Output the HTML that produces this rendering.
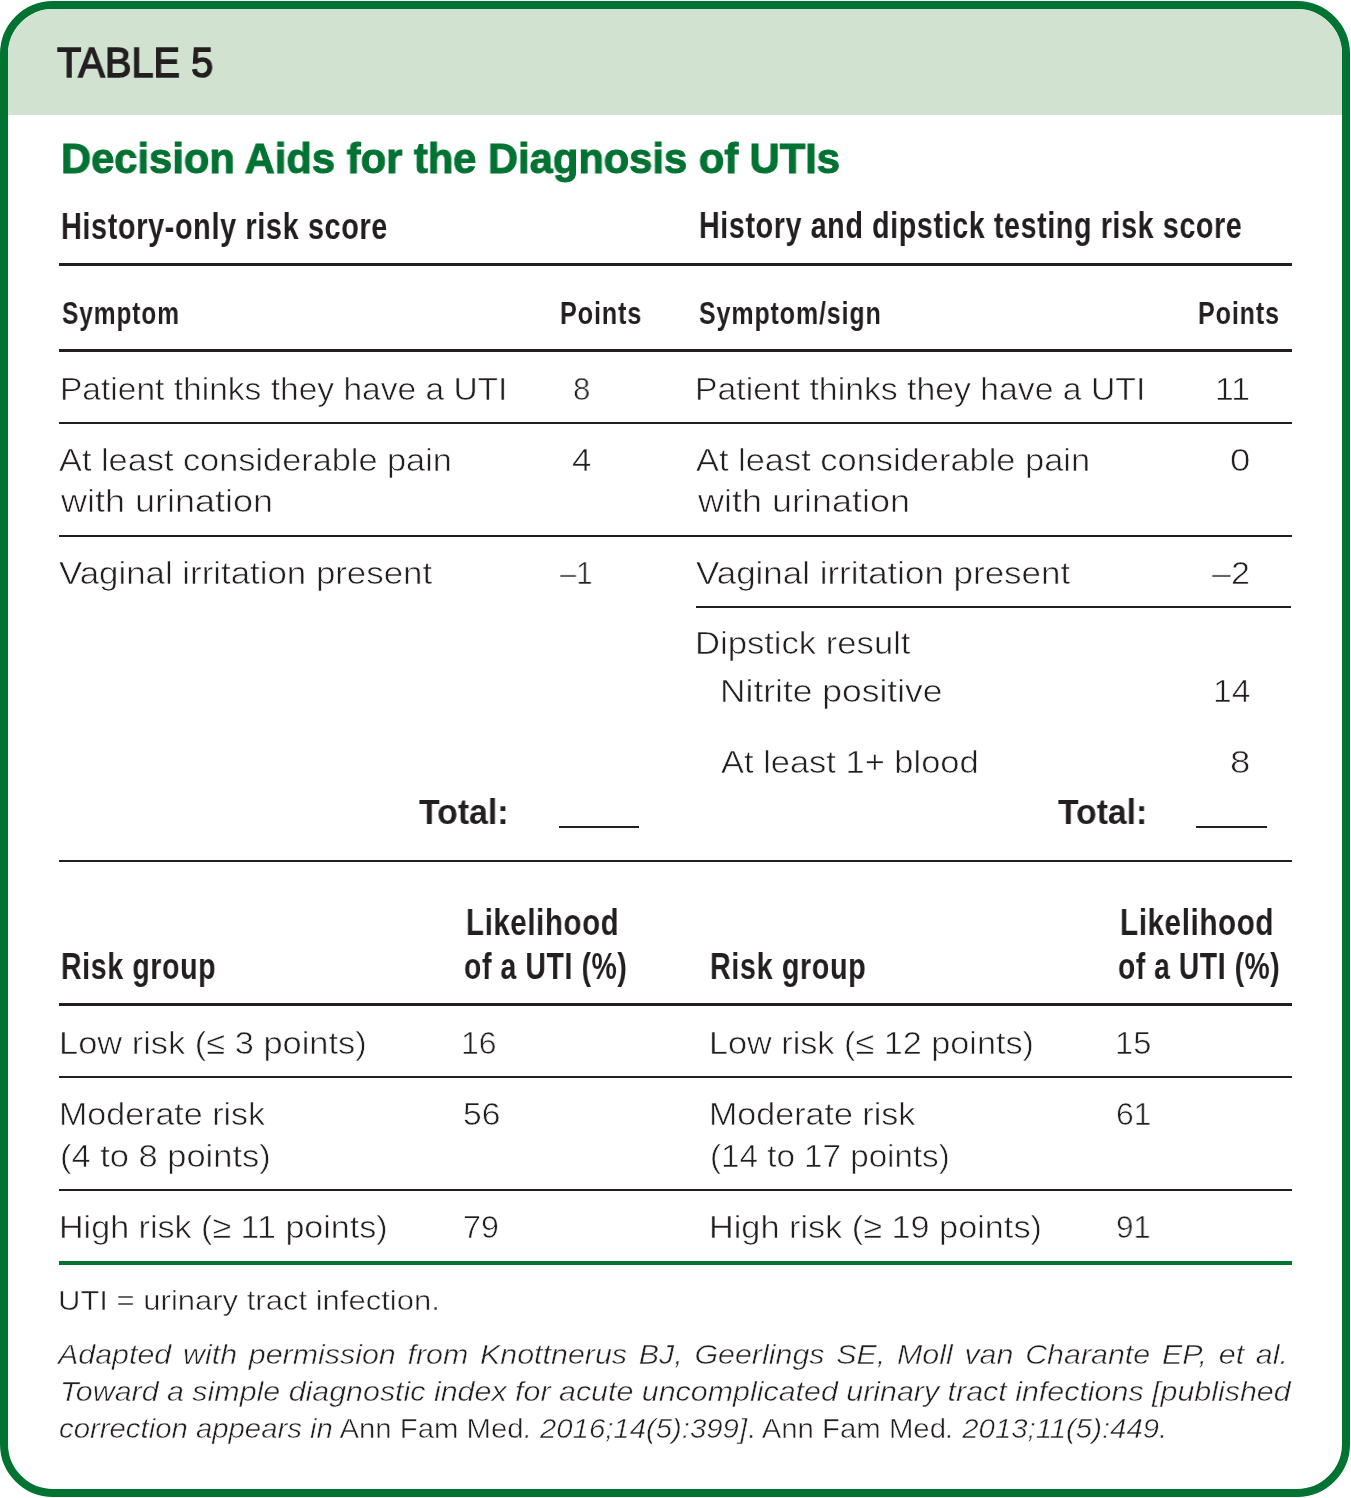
<!DOCTYPE html>
<html><head><meta charset="utf-8"><title>Table 5</title><style>
html,body{margin:0;padding:0;background:#fff;}
body{width:1351px;height:1498px;position:relative;overflow:hidden;font-family:'Liberation Sans', sans-serif;color:#231f20;}
.frame{position:absolute;left:0;top:1px;width:1350px;height:1496px;box-sizing:border-box;border:8px solid #007231;border-radius:53px;overflow:hidden;background:#fff;}
.hdr{position:absolute;left:0;top:0;width:100%;height:106px;background:#d1e2d0;}
.t{position:absolute;white-space:nowrap;line-height:1;transform-origin:0 0;will-change:transform;}
.ln{position:absolute;}
.cite{position:absolute;white-space:nowrap;line-height:1;transform-origin:0 0;will-change:transform;font-size:28.0px;-webkit-text-stroke:0.5px #fff;}
.tab{font-size:43.0px;font-weight:normal;font-style:normal;color:#231f20;letter-spacing:0px;-webkit-text-stroke:1.5px #231f20;}
.title{font-size:42.5px;font-weight:bold;font-style:normal;color:#007231;letter-spacing:0px;-webkit-text-stroke:1px #007231;}
.head{font-size:37.0px;font-weight:bold;font-style:normal;color:#231f20;letter-spacing:0.8px;}
.sub{font-size:31.5px;font-weight:bold;font-style:normal;color:#231f20;letter-spacing:1.2px;}
.body{font-size:32.0px;font-weight:normal;font-style:normal;color:#231f20;letter-spacing:0px;-webkit-text-stroke:0.6px #fff;}
.total{font-size:35.0px;font-weight:bold;font-style:normal;color:#231f20;letter-spacing:0px;}
.foot{font-size:28.0px;font-weight:normal;font-style:normal;color:#231f20;letter-spacing:0px;-webkit-text-stroke:0.5px #fff;}
</style></head>
<body>
<div class="frame"><div class="hdr"></div></div>
<div class="ln" style="left:58.5px;top:263px;width:1233.0px;height:3px;background:#231f20"></div>
<div class="ln" style="left:58.5px;top:349px;width:1233.0px;height:3px;background:#231f20"></div>
<div class="ln" style="left:58.5px;top:422px;width:1233.0px;height:2px;background:#231f20"></div>
<div class="ln" style="left:58.5px;top:535px;width:1233.0px;height:2px;background:#231f20"></div>
<div class="ln" style="left:695.7px;top:606px;width:595.8px;height:2px;background:#231f20"></div>
<div class="ln" style="left:58.5px;top:860px;width:1233.0px;height:2px;background:#231f20"></div>
<div class="ln" style="left:558.8px;top:825.5px;width:80.1px;height:2px;background:#231f20"></div>
<div class="ln" style="left:1196.3px;top:825.5px;width:71.1px;height:2px;background:#231f20"></div>
<div class="ln" style="left:58.5px;top:1003px;width:1233.0px;height:3px;background:#231f20"></div>
<div class="ln" style="left:58.5px;top:1076px;width:1233.0px;height:2px;background:#231f20"></div>
<div class="ln" style="left:58.5px;top:1189px;width:1233.0px;height:2px;background:#231f20"></div>
<div class="ln" style="left:58.5px;top:1261px;width:1233.0px;height:4px;background:#007231"></div>
<div class="t tab" style="left:56.60px;top:41.40px;transform:scaleX(0.9251)">TABLE 5</div>
<div class="t title" style="left:61.34px;top:137.92px;transform:scaleX(0.9809)">Decision Aids for the Diagnosis of UTIs</div>
<div class="t head" style="left:61.14px;top:207.58px;transform:scaleX(0.7796)">History-only risk score</div>
<div class="t head" style="left:698.75px;top:207.38px;transform:scaleX(0.7745)">History and dipstick testing risk score</div>
<div class="t sub" style="left:62.00px;top:298.04px;transform:scaleX(0.7755)">Symptom</div>
<div class="t sub" style="left:560.31px;top:298.04px;transform:scaleX(0.7951)">Points</div>
<div class="t sub" style="left:699.20px;top:297.94px;transform:scaleX(0.7896)">Symptom/sign</div>
<div class="t sub" style="left:1197.92px;top:297.94px;transform:scaleX(0.7921)">Points</div>
<div class="t body" style="left:59.80px;top:372.71px;transform:scaleX(1.0481)">Patient thinks they have a UTI</div>
<div class="t body" style="left:573.33px;top:372.71px;transform:scaleX(0.9688)">8</div>
<div class="t body" style="left:59.20px;top:444.21px;transform:scaleX(1.0722)">At least considerable pain</div>
<div class="t body" style="left:60.62px;top:485.41px;transform:scaleX(1.1249)">with urination</div>
<div class="t body" style="left:572.00px;top:444.21px;transform:scaleX(1.0882)">4</div>
<div class="t body" style="left:59.00px;top:556.71px;transform:scaleX(1.0886)">Vaginal irritation present</div>
<div class="t body" style="left:560.00px;top:556.71px;transform:scaleX(0.9167)">–1</div>
<div class="t body" style="left:695.29px;top:372.71px;transform:scaleX(1.0550)">Patient thinks they have a UTI</div>
<div class="t body" style="left:1214.90px;top:372.71px;transform:scaleX(1.0519)">11</div>
<div class="t body" style="left:696.30px;top:443.91px;transform:scaleX(1.0753)">At least considerable pain</div>
<div class="t body" style="left:697.92px;top:484.91px;transform:scaleX(1.1249)">with urination</div>
<div class="t body" style="left:1229.56px;top:443.91px;transform:scaleX(1.1437)">0</div>
<div class="t body" style="left:695.90px;top:556.71px;transform:scaleX(1.0916)">Vaginal irritation present</div>
<div class="t body" style="left:1212.00px;top:556.71px;transform:scaleX(1.0633)">–2</div>
<div class="t body" style="left:695.24px;top:626.91px;transform:scaleX(1.0818)">Dipstick result</div>
<div class="t body" style="left:719.99px;top:674.81px;transform:scaleX(1.1072)">Nitrite positive</div>
<div class="t body" style="left:1212.50px;top:674.81px;transform:scaleX(1.0489)">14</div>
<div class="t body" style="left:721.30px;top:745.91px;transform:scaleX(1.0767)">At least 1+ blood</div>
<div class="t body" style="left:1229.56px;top:745.91px;transform:scaleX(1.1437)">8</div>
<div class="t total" style="left:419.00px;top:793.67px;transform:scaleX(0.9666)">Total:</div>
<div class="t total" style="left:1057.70px;top:793.87px;transform:scaleX(0.9633)">Total:</div>
<div class="t head" style="left:61.16px;top:947.58px;transform:scaleX(0.7713)">Risk group</div>
<div class="t head" style="left:466.01px;top:904.48px;transform:scaleX(0.7943)">Likelihood</div>
<div class="t head" style="left:464.23px;top:947.58px;transform:scaleX(0.7668)">of a UTI (%)</div>
<div class="t head" style="left:710.05px;top:947.58px;transform:scaleX(0.7769)">Risk group</div>
<div class="t head" style="left:1119.80px;top:904.48px;transform:scaleX(0.7985)">Likelihood</div>
<div class="t head" style="left:1118.24px;top:947.58px;transform:scaleX(0.7611)">of a UTI (%)</div>
<div class="t body" style="left:59.45px;top:1027.21px;transform:scaleX(1.0756)">Low risk (≤ 3 points)</div>
<div class="t body" style="left:461.01px;top:1027.21px;transform:scaleX(0.9970)">16</div>
<div class="t body" style="left:708.86px;top:1027.21px;transform:scaleX(1.0692)">Low risk (≤ 12 points)</div>
<div class="t body" style="left:1114.76px;top:1027.21px;transform:scaleX(1.0214)">15</div>
<div class="t body" style="left:58.87px;top:1097.91px;transform:scaleX(1.0630)">Moderate risk</div>
<div class="t body" style="left:59.92px;top:1139.61px;transform:scaleX(1.0767)">(4 to 8 points)</div>
<div class="t body" style="left:462.95px;top:1097.91px;transform:scaleX(1.0504)">56</div>
<div class="t body" style="left:708.87px;top:1097.91px;transform:scaleX(1.0641)">Moderate risk</div>
<div class="t body" style="left:709.96px;top:1139.61px;transform:scaleX(1.0368)">(14 to 17 points)</div>
<div class="t body" style="left:1115.81px;top:1097.91px;transform:scaleX(0.9912)">61</div>
<div class="t body" style="left:58.87px;top:1210.91px;transform:scaleX(1.0650)">High risk (≥ 11 points)</div>
<div class="t body" style="left:462.99px;top:1210.91px;transform:scaleX(1.0060)">79</div>
<div class="t body" style="left:708.86px;top:1210.91px;transform:scaleX(1.0705)">High risk (≥ 19 points)</div>
<div class="t body" style="left:1116.02px;top:1210.91px;transform:scaleX(0.9764)">91</div>
<div class="t foot" style="left:58.18px;top:1287.10px;transform:scaleX(1.1076)">UTI = urinary tract infection.</div>
<div class="cite" id="c0" style="left:58.00px;top:1341.10px;transform:scaleX(1.0856);word-spacing:3.03px;"><i>Adapted with permission from Knottnerus BJ, Geerlings SE, Moll van Charante EP, et al.</i></div>
<div class="cite" id="c1" style="left:60.40px;top:1377.90px;transform:scaleX(1.0856);"><i>Toward a simple diagnostic index for acute uncomplicated urinary tract infections [published</i></div>
<div class="cite" id="c2" style="left:59.20px;top:1415.40px;transform:scaleX(1.0475);"><i>correction appears in</i> Ann Fam Med<i>. 2016;14(5):399]</i>. Ann Fam Med<i>. 2013;11(5):449.</i></div>
</body></html>
